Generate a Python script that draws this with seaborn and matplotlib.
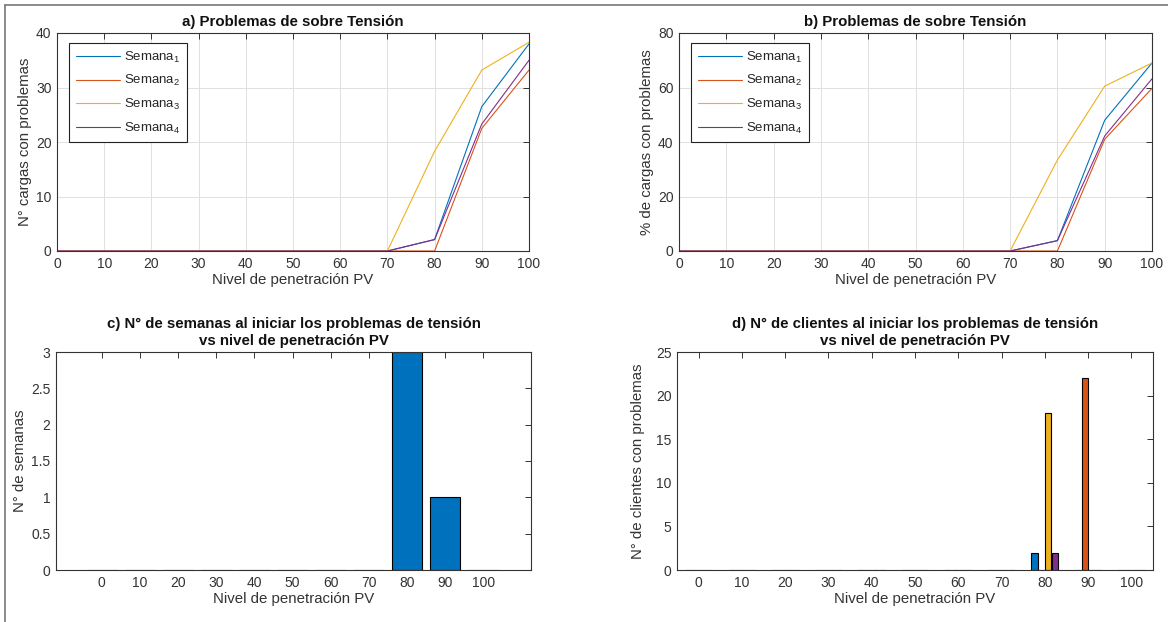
import numpy as np
import pandas as pd
import matplotlib
matplotlib.use("Agg")
import matplotlib.pyplot as plt
import seaborn as sns

# ---------------- data ----------------
pv = [0, 10, 20, 30, 40, 50, 60, 70, 80, 90, 100]
series_names = ["Semana$_1$", "Semana$_2$", "Semana$_3$", "Semana$_4$"]

# a) N° cargas con problemas
cargas_s1 = [0, 0, 0, 0, 0, 0, 0, 0, 2.1, 26.5, 38.0]
cargas_s2 = [0, 0, 0, 0, 0, 0, 0, 0, 0.0, 22.5, 33.2]
cargas_s3 = [0, 0, 0, 0, 0, 0, 0, 0, 18.3, 33.2, 38.3]
cargas_s4 = [0, 0, 0, 0, 0, 0, 0, 0, 2.1, 23.3, 35.0]

# b) % de cargas con problemas
pct_s1 = [0, 0, 0, 0, 0, 0, 0, 0, 3.8, 48.0, 69.0]
pct_s2 = [0, 0, 0, 0, 0, 0, 0, 0, 0.0, 41.0, 59.7]
pct_s3 = [0, 0, 0, 0, 0, 0, 0, 0, 33.4, 60.5, 69.0]
pct_s4 = [0, 0, 0, 0, 0, 0, 0, 0, 3.8, 42.2, 63.2]

# c) N° de semanas
semanas = [0, 0, 0, 0, 0, 0, 0, 0, 3, 1, 0]

# d) N° de clientes con problemas (por semana)
clientes_s1 = [0, 0, 0, 0, 0, 0, 0, 0, 2, 0, 0]
clientes_s2 = [0, 0, 0, 0, 0, 0, 0, 0, 0, 22, 0]
clientes_s3 = [0, 0, 0, 0, 0, 0, 0, 0, 18, 0, 0]
clientes_s4 = [0, 0, 0, 0, 0, 0, 0, 0, 2, 0, 0]

colors = ["#0072BD", "#D95319", "#EDB120", "#7E2F8E"]

# ---------------- style ----------------
sns.set_theme(style="white")
plt.rcParams["font.family"] = ["Liberation Sans", "DejaVu Sans"]
plt.rcParams["mathtext.fontset"] = "custom"
plt.rcParams["mathtext.rm"] = "Liberation Sans"
plt.rcParams["mathtext.it"] = "Liberation Sans"
plt.rcParams["mathtext.default"] = "regular"

W, H = 1168, 622
fig = plt.figure(figsize=(W / 100, H / 100), dpi=100)
fig.patch.set_facecolor("white")


def axrect(l, r, t, b):
    return [l / W, (H - b) / H, (r - l) / W, (b - t) / H]


ax_a = fig.add_axes(axrect(57, 529, 33, 251))
ax_b = fig.add_axes(axrect(679, 1152, 33, 251))
ax_c = fig.add_axes(axrect(56, 531, 352, 570))
ax_d = fig.add_axes(axrect(677, 1153, 352, 570))

tick_col = "#333333"


def style_axes(ax, grid=False):
    for s in ax.spines.values():
        s.set_visible(True)
        s.set_color(tick_col)
        s.set_linewidth(0.8)
    ax.tick_params(direction="in", length=4, width=0.7, colors=tick_col,
                   labelsize=10, top=True, right=True, labeltop=False,
                   labelright=False, pad=4)
    if grid:
        ax.grid(True, color="#e0e0e0", linewidth=0.7)
        ax.set_axisbelow(True)
    ax.set_facecolor("white")


def long_df(vals):
    rows = []
    for name, v in zip(series_names, vals):
        for x, y in zip(pv, v):
            rows.append({"pv": x, "val": y, "semana": name})
    return pd.DataFrame(rows)


title_kw = dict(fontsize=10.8, fontweight="bold", color="#111111", pad=5)
label_kw = dict(fontsize=10.8, color=tick_col)

# ---------- a ----------
df_a = long_df([cargas_s1, cargas_s2, cargas_s3, cargas_s4])
sns.lineplot(data=df_a, x="pv", y="val", hue="semana", hue_order=series_names,
             palette=colors, linewidth=0.8, ax=ax_a)
# ---------- b ----------
df_b = long_df([pct_s1, pct_s2, pct_s3, pct_s4])
sns.lineplot(data=df_b, x="pv", y="val", hue="semana", hue_order=series_names,
             palette=colors, linewidth=0.8, ax=ax_b)

for ax, ylim, yt, title, ylab in [
    (ax_a, (0, 40), np.arange(0, 41, 10), "a) Problemas de sobre Tensión", "N° cargas con problemas"),
    (ax_b, (0, 80), np.arange(0, 81, 20), "b) Problemas de sobre Tensión", "% de cargas con problemas"),
]:
    style_axes(ax, grid=True)
    ax.set_xlim(0, 100)
    ax.set_ylim(*ylim)
    ax.set_xticks(pv)
    ax.set_yticks(yt)
    ax.set_title(title, **title_kw)
    ax.set_xlabel("Nivel de penetración PV", labelpad=2, **label_kw)
    ax.set_ylabel(ylab, labelpad=3, **label_kw)
    h, l = ax.get_legend_handles_labels()
    ax.legend(h, l, loc="upper left", bbox_to_anchor=(12 / 472, 1 - 10 / 218),
              borderaxespad=0, frameon=True, fancybox=False, framealpha=1,
              edgecolor="#222222", fontsize=9.5, handlelength=3.4,
              labelspacing=0.65, borderpad=0.5, handletextpad=0.3)
    ax.get_legend().get_frame().set_linewidth(0.8)

# ---------- c ----------
df_c = pd.DataFrame({"pv": pv, "semanas": semanas})
sns.barplot(data=df_c, x="pv", y="semanas", native_scale=True, width=0.8,
            color=colors[0], saturation=1, edgecolor="black", linewidth=0.8,
            ax=ax_c)
style_axes(ax_c)
ax_c.set_xlim(-12, 112.5)
ax_c.set_ylim(0, 3)
ax_c.set_xticks(pv)
ax_c.set_xticklabels([str(v) for v in pv])
ax_c.set_yticks(np.arange(0, 3.01, 0.5))
ax_c.set_yticklabels(["0", "0.5", "1", "1.5", "2", "2.5", "3"])
ax_c.set_title("c) N° de semanas al iniciar los problemas de tensión\nvs nivel de penetración PV",
               linespacing=1.3, **title_kw)
ax_c.set_xlabel("Nivel de penetración PV", labelpad=2, **label_kw)
ax_c.set_ylabel("N° de semanas", labelpad=3, **label_kw)

# ---------- d ----------
df_d = long_df([clientes_s1, clientes_s2, clientes_s3, clientes_s4])
sns.barplot(data=df_d, x="pv", y="val", hue="semana", hue_order=series_names,
            palette=colors, saturation=1, native_scale=True, width=0.63,
            gap=0.08, edgecolor="black", linewidth=0.8, legend=False, ax=ax_d)
style_axes(ax_d)
ax_d.set_xlim(-5, 105)
ax_d.set_ylim(0, 25)
ax_d.set_xticks(pv)
ax_d.set_xticklabels([str(v) for v in pv])
ax_d.set_yticks(np.arange(0, 26, 5))
ax_d.set_title("d) N° de clientes al iniciar los problemas de tensión\nvs nivel de penetración PV",
               linespacing=1.3, **title_kw)
ax_d.set_xlabel("Nivel de penetración PV", labelpad=2, **label_kw)
ax_d.set_ylabel("N° de clientes con problemas", labelpad=8, **label_kw)

# figure frame lines (top and left)
fig.add_artist(plt.Line2D([5 / W, 1], [1 - 5 / H, 1 - 5 / H], color="#777777",
                          linewidth=1.2, transform=fig.transFigure))
fig.add_artist(plt.Line2D([5 / W, 5 / W], [0, 1 - 5 / H], color="#777777",
                          linewidth=1.2, transform=fig.transFigure))

fig.savefig("out.png", dpi=100, facecolor="white")
